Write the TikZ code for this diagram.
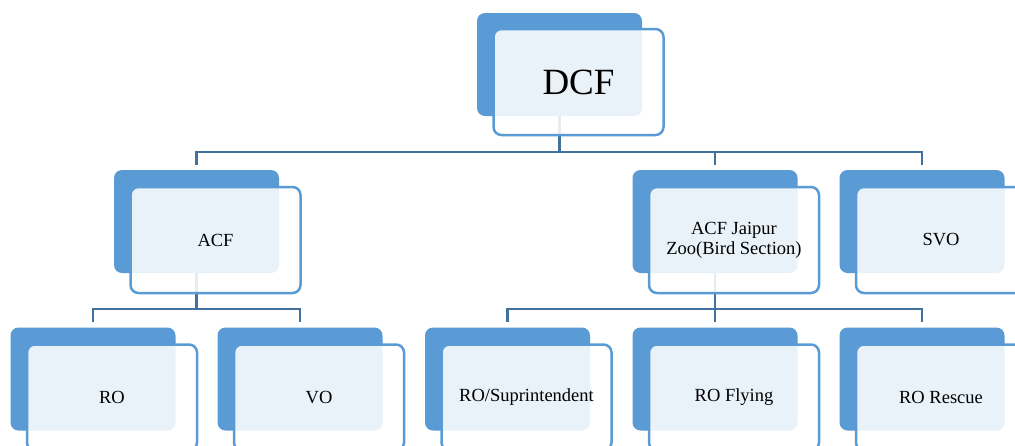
\documentclass[tikz,border=0pt]{standalone}
\usepackage{fontspec}
\setmainfont{Liberation Serif}
\usepackage{tikz}

\definecolor{boxblue}{RGB}{91,155,213}
\definecolor{linkblue}{RGB}{65,113,156}
\pgfdeclarelayer{bg}
\pgfsetlayers{bg,main}

\begin{document}
\begin{tikzpicture}[x=1pt, y=-1pt,
    back/.style={shape=rectangle, rounded corners=8pt, fill=boxblue,
      minimum width=165pt, minimum height=103pt, inner sep=0pt},
    front/.style={shape=rectangle, rounded corners=8pt, draw=boxblue,
      line width=2.5pt, fill=white, fill opacity=0.87, text opacity=1,
      minimum width=170pt, minimum height=106pt, inner sep=0pt,
      align=center, font=\fontsize{18.5}{20}\selectfont},
    link/.style={draw=linkblue, line width=2.5pt}]
  \clip (0, 0) rectangle (1015, 445);
  \node (dcfb) at (559.5, 64.5) [back] {};
  \node (acfb) at (196.5, 221.5) [back] {};
  \node (jaipurb) at (715, 221.5) [back] {};
  \node (svob) at (922, 221.5) [back] {};
  \node (rob) at (93, 379) [back] {};
  \node (vob) at (300, 379) [back] {};
  \node (supb) at (507.5, 379) [back] {};
  \node (flyb) at (715, 379) [back] {};
  \node (rescb) at (922, 379) [back] {};
  \node (dcf) at (578.5, 82) [front, font=\fontsize{37}{40}\selectfont] {DCF};
  \node (acf) at (215.5, 240) [front] {ACF};
  \node (jaipur) at (734, 240) [front] {ACF Jaipur\\Zoo(Bird Section)};
  \node (svo) at (941, 240) [front] {SVO};
  \node (ro) at (112, 397.5) [front] {RO};
  \node (vo) at (319, 397.5) [front] {VO};
  \node (sup) at (526.5, 397.5) [front] {RO/Suprintendent};
  \node (fly) at (734, 397.5) [front] {RO Flying};
  \node (resc) at (941, 397.5) [front] {RO Rescue};
  \begin{pgfonlayer}{bg}
    \draw[link] (dcfb.south) -- ++(0, 36) -| ([yshift=5pt]acfb.north);
    \draw[link] (dcfb.south) -- ++(0, 36) -| ([yshift=5pt]jaipurb.north);
    \draw[link] (dcfb.south) -- ++(0, 36) -| ([yshift=5pt]svob.north);
    \draw[link] (acfb.south) -- ++(0, 36) -| ([yshift=5pt]rob.north);
    \draw[link] (acfb.south) -- ++(0, 36) -| ([yshift=5pt]vob.north);
    \draw[link] (jaipurb.south) -- ++(0, 36) -| ([yshift=5pt]supb.north);
    \draw[link] (jaipurb.south) -- ++(0, 36) -| ([yshift=5pt]flyb.north);
    \draw[link] (jaipurb.south) -- ++(0, 36) -| ([yshift=5pt]rescb.north);
  \end{pgfonlayer}
\end{tikzpicture}
\end{document}
